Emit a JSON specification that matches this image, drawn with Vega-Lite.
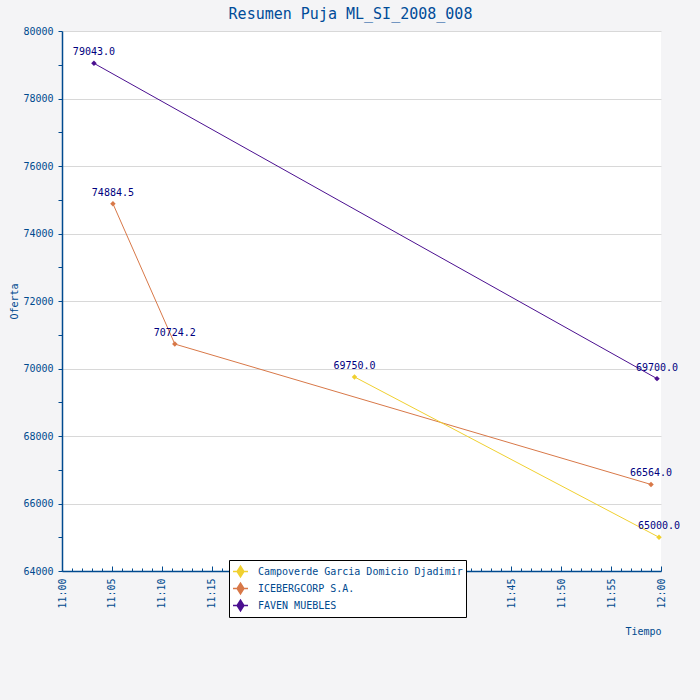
{
  "$schema": "https://vega.github.io/schema/vega-lite/v6.json",
  "width": 599,
  "height": 540,
  "autosize": "none",
  "padding": {"left": 62, "top": 31, "right": 39, "bottom": 129},
  "background": "#f4f4f6",
  "title": {
    "text": "Resumen Puja ML_SI_2008_008",
    "font": "DejaVu Sans Mono",
    "fontSize": 15,
    "fontWeight": "normal",
    "color": "#004c99",
    "offset": 4,
    "dx": -11
  },
  "config": {
    "view": {"fill": "white", "stroke": null},
    "axis": {
      "labelFont": "DejaVu Sans Mono",
      "labelFontSize": 10,
      "labelColor": "#004a8f",
      "titleFont": "DejaVu Sans Mono",
      "titleFontSize": 10,
      "titleFontWeight": "normal",
      "titleColor": "#004a8f",
      "domainColor": "#004a8f",
      "tickColor": "#004a8f",
      "domainWidth": 1.5
    }
  },
  "data": {
    "values": [
      {"postor": "FAVEN MUEBLES", "minuto": 3.2, "oferta": 79043.0},
      {"postor": "FAVEN MUEBLES", "minuto": 59.6, "oferta": 69700.0},
      {"postor": "ICEBERGCORP S.A.", "minuto": 5.1, "oferta": 74884.5},
      {"postor": "ICEBERGCORP S.A.", "minuto": 11.3, "oferta": 70724.2},
      {"postor": "ICEBERGCORP S.A.", "minuto": 59.0, "oferta": 66564.0},
      {"postor": "Campoverde Garcia Domicio Djadimir", "minuto": 29.3, "oferta": 69750.0},
      {"postor": "Campoverde Garcia Domicio Djadimir", "minuto": 59.8, "oferta": 65000.0}
    ]
  },
  "encoding": {
    "x": {
      "field": "minuto",
      "type": "quantitative",
      "scale": {"domain": [0, 60], "nice": false, "zero": false},
      "axis": {
        "title": "Tiempo",
        "titleX": 599,
        "titleY": 60,
        "titleAlign": "right",
        "titleAnchor": "end",
        "titleBaseline": "middle",
        "values": [0,1,2,3,4,5,6,7,8,9,10,11,12,13,14,15,16,17,18,19,20,21,22,23,24,25,26,27,28,29,30,31,32,33,34,35,36,37,38,39,40,41,42,43,44,45,46,47,48,49,50,51,52,53,54,55,56,57,58,59,60],
        "labelExpr": "datum.value % 5 === 0 ? (datum.value === 60 ? '12:00' : '11:' + (datum.value < 10 ? '0' : '') + datum.value) : ''",
        "labelAngle": -90,
        "labelOverlap": false,
        "labelFlush": false,
        "labelBound": false,
        "labelPadding": 12,
        "tickSize": {"condition": {"test": "datum.value % 5 === 0", "value": -5}, "value": -3},
        "grid": false
      }
    },
    "y": {
      "field": "oferta",
      "type": "quantitative",
      "scale": {"domain": [64000, 80000], "nice": false, "zero": false},
      "axis": {
        "title": "Oferta",
        "titleX": -48,
        "titleY": 270,
        "titleAngle": -90,
        "titleAlign": "center",
        "titleBaseline": "middle",
        "values": [64000,65000,66000,67000,68000,69000,70000,71000,72000,73000,74000,75000,76000,77000,78000,79000,80000],
        "labelExpr": "datum.value % 2000 === 0 ? format(datum.value, 'd') : ''",
        "tickSize": 4,
        "labelPadding": 5,
        "grid": true,
        "gridColor": "#d8d8d8",
        "gridOpacity": {"condition": {"test": "datum.value % 2000 === 0", "value": 1}, "value": 0}
      }
    },
    "color": {
      "field": "postor",
      "type": "nominal",
      "scale": {
        "domain": ["Campoverde Garcia Domicio Djadimir", "ICEBERGCORP S.A.", "FAVEN MUEBLES"],
        "range": ["#f0d030", "#d87848", "#4b1090"]
      },
      "legend": {
        "title": null,
        "orient": "none",
        "legendX": 167,
        "legendY": 529,
        "fillColor": "white",
        "strokeColor": "black",
        "padding": 3,
        "rowPadding": -1,
        "symbolType": "M-1,0L1,0M0,-0.7L0.45,0L0,0.7L-0.45,0Z",
        "symbolSize": 225,
        "symbolStrokeWidth": 1.5,
        "labelOffset": 9,
        "labelLimit": 0,
        "labelFont": "DejaVu Sans Mono",
        "labelFontSize": 10,
        "labelColor": "#004a8f"
      }
    }
  },
  "layer": [
    {"mark": {"type": "line", "strokeWidth": 1}},
    {"mark": {"type": "point", "shape": "diamond", "filled": true, "size": 30, "opacity": 1}},
    {
      "mark": {
        "type": "text",
        "font": "DejaVu Sans Mono",
        "fontSize": 10,
        "color": "#000080",
        "dy": -8,
        "baseline": "alphabetic"
      },
      "encoding": {
        "text": {"field": "oferta", "type": "quantitative", "format": ".1f"},
        "color": {"value": "#000080"}
      }
    }
  ]
}
